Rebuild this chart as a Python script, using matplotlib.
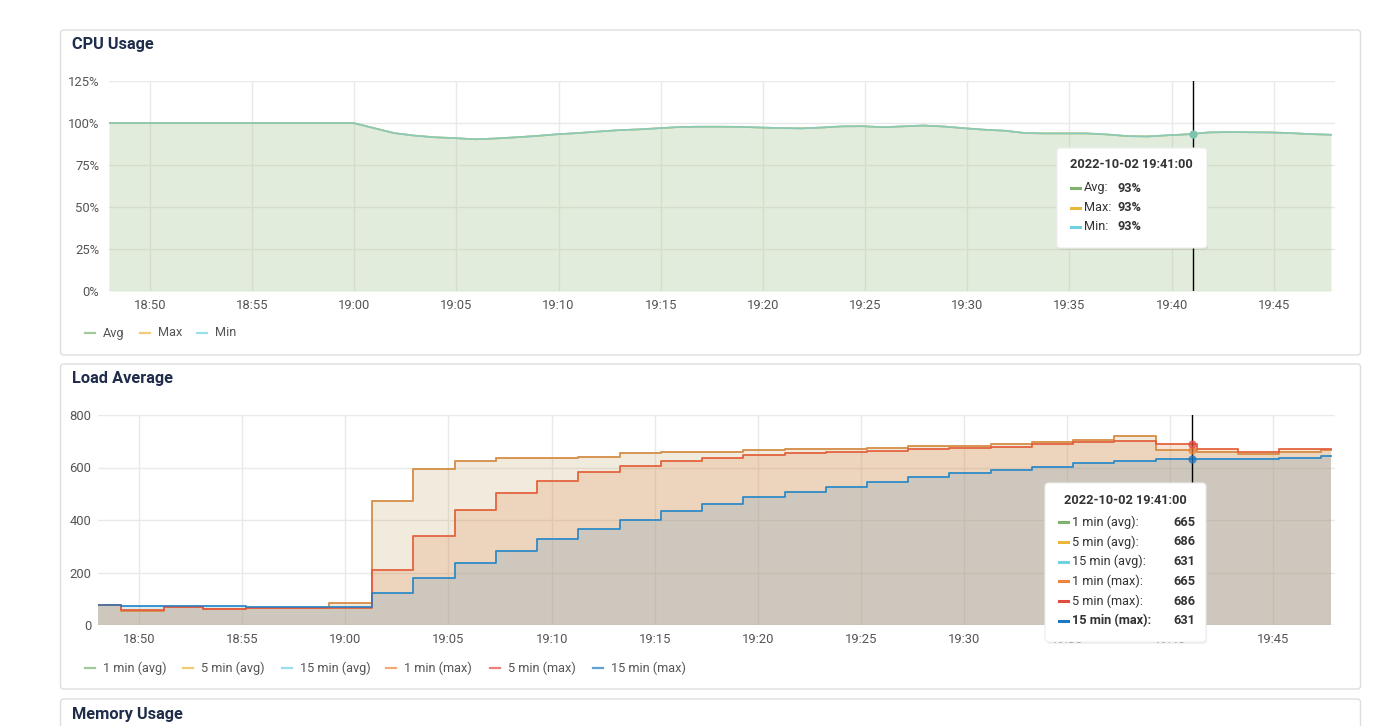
import matplotlib.pyplot as plt
from matplotlib.patches import FancyBboxPatch
from matplotlib.lines import Line2D
from matplotlib.transforms import Affine2D
import numpy as np

plt.rcParams['font.family'] = ['Roboto', 'DejaVu Sans']

W, H = 1398, 726

# x axis is minutes after 18:48
tick_pos = [2, 7, 12, 17, 22, 27, 32, 37, 42, 47, 52, 57]
tick_labels = ['18:50', '18:55', '19:00', '19:05', '19:10', '19:15',
               '19:20', '19:25', '19:30', '19:35', '19:40', '19:45']
cursor_t = 53.05
cursor_label = '2022-10-02 19:41:00'

# CPU usage (%), one sample per minute
cpu_avg = [100, 100, 100, 100, 100, 100, 100, 100, 100, 100, 100, 100, 100,
           97.0, 94.0, 92.5, 91.5, 91.0, 90.3, 90.8, 91.5, 92.3, 93.3, 94.0,
           94.9, 95.7, 96.2, 96.9, 97.6, 97.8, 97.8, 97.7, 97.3, 97.0, 96.8,
           97.3, 98.0, 98.1, 97.5, 98.0, 98.5, 97.9, 96.9, 96.0, 95.4, 94.0,
           93.8, 93.8, 93.8, 93.2, 92.2, 92.0, 92.7, 93.3, 94.4, 94.6, 94.5,
           94.4, 94.0, 93.4, 93.0]
cpu_max = list(cpu_avg)
cpu_min = list(cpu_avg)
cpu_names = ['Avg', 'Max', 'Min']
cpu_tip = ['93%', '93%', '93%']

# load average, step changes (minutes after 18:48)
load_t = [0, 1.1, 3.2, 5.1, 7.2, 11.2,
          13.3, 15.3, 17.3, 19.3, 21.3, 23.3, 25.3, 27.3, 29.3, 31.3, 33.3, 35.3,
          37.3, 39.3, 41.3, 43.3, 45.3, 47.3, 49.3, 51.3, 53.3, 55.3, 57.3, 59.3, 59.8]
load1_max = [77, 55, 67, 60, 63, 85,
             472, 594, 625, 635, 637, 639, 654, 660, 660, 665, 669, 669,
             675, 682, 682, 690, 698, 705, 720, 667, 660, 650, 660, 665, 665]
load5_max = [77, 57, 67, 60, 63, 66,
             210, 340, 438, 502, 549, 584, 606, 625, 635, 648, 654, 658,
             664, 670, 673, 679, 690, 698, 702, 688, 669, 658, 670, 670, 670]
load15_max = [77, 74, 72, 71, 70, 70,
              121, 178, 235, 282, 326, 366, 400, 435, 461, 486, 508, 527,
              546, 562, 578, 590, 603, 616, 625, 631, 632, 634, 637, 642, 642]
load1_avg = list(load1_max)
load5_avg = list(load5_max)
load15_avg = list(load15_max)
load_names = ['1 min (avg)', '5 min (avg)', '15 min (avg)',
              '1 min (max)', '5 min (max)', '15 min (max)']
load_tip = ['665', '686', '631', '665', '686', '631']

colors = ['#7EB26D', '#EAB839', '#6ED0E0', '#EF843C', '#E24D42', '#1F78C1']

fig = plt.figure(figsize=(W / 100, H / 100), dpi=100)
fig.patch.set_facecolor('white')
px = Affine2D().scale(1 / W, -1 / H).translate(0, 1) + fig.transFigure


def panel(top, bottom, title):
    box = FancyBboxPatch((60.5, top), 1300, bottom - top,
                         boxstyle='round,pad=0,rounding_size=3', transform=px,
                         fc='white', ec='#dedede', lw=1, zorder=-1)
    fig.add_artist(box)
    fig.text(72, top + 15, title, transform=px, fontsize=11.8, fontweight='bold',
             color='#1f2d4b', va='center', ha='left')


def style_axes(ax, ylim, yticks, ylabels, pad_y):
    ax.set_xlim(0, 60)
    ax.set_ylim(*ylim)
    ax.set_xticks(tick_pos, tick_labels)
    ax.set_yticks(yticks, ylabels)
    ax.tick_params(length=0, labelsize=9.4, colors='#555555')
    ax.tick_params(axis='y', pad=pad_y)
    ax.tick_params(axis='x', pad=6)
    ax.grid(color='#e9e9e9', lw=1)
    ax.set_axisbelow(True)
    for s in ax.spines.values():
        s.set_visible(False)


def legend(y, items):
    for (x, name), c in zip(items, colors):
        fig.add_artist(Line2D([x, x + 10], [y, y], transform=px, color=c,
                              lw=1.6, alpha=0.7))
        fig.text(x + 18, y, name, transform=px, fontsize=9.2, color='#555555',
                 va='center', ha='left')


def tooltip(x0, y0, x1, y1, rows, vals, label_x, value_x, row_y, dy, bold_last):
    shadow = FancyBboxPatch((x0 + 1, y0 + 2), x1 - x0, y1 - y0,
                            boxstyle='round,pad=0,rounding_size=4', transform=px,
                            fc='#000000', ec='none', alpha=0.06, zorder=9)
    box = FancyBboxPatch((x0, y0), x1 - x0, y1 - y0,
                         boxstyle='round,pad=0,rounding_size=4', transform=px,
                         fc='white', ec='#eeeeee', lw=0.8, zorder=10)
    fig.add_artist(shadow)
    fig.add_artist(box)
    fig.text(x0 + 13 if x1 - x0 < 155 else x0 + 19, y0 + 17, cursor_label,
             transform=px, fontsize=9.2, fontweight='bold', color='#333333',
             va='center', ha='left', zorder=11)
    for i, (name, v) in enumerate(zip(rows, vals)):
        yy = row_y + i * dy
        fw = 'bold' if (bold_last and i == len(rows) - 1) else 'normal'
        fig.add_artist(Line2D([label_x - 13, label_x - 4], [yy, yy], transform=px,
                              color=colors[i], lw=2.2, zorder=11))
        fig.text(label_x, yy, name + ':', transform=px, fontsize=9.2, color='#333333',
                 fontweight=fw, va='center', ha='left', zorder=11)
        fig.text(value_x, yy, v, transform=px, fontsize=9.2, color='#333333',
                 fontweight='bold', va='center', ha='left', zorder=11)


panel(30, 355, 'CPU Usage')
panel(364, 689, 'Load Average')
panel(699, 760, 'Memory Usage')

# CPU chart
ax1 = fig.add_axes([109 / W, 1 - 291 / H, (1335 - 109) / W, 210 / H])
cpu_t = np.linspace(0, 59.8, len(cpu_avg))
for vals, c in zip([cpu_avg, cpu_max, cpu_min], colors[:3]):
    ax1.fill_between(cpu_t, 0, vals, color=c, alpha=0.1, lw=0)
for vals, c in zip([cpu_avg, cpu_max, cpu_min], colors[:3]):
    ax1.plot(cpu_t, vals, color=c, lw=1.2, alpha=0.75)
style_axes(ax1, (0, 125), [0, 25, 50, 75, 100, 125],
           ['0%', '25%', '50%', '75%', '100%', '125%'], 7)
ax1.axvline(cursor_t, color='black', lw=1, zorder=5)
ax1.plot(cursor_t, np.interp(cursor_t, cpu_t, cpu_avg), 'o', ms=5,
         color='#7fc4b0', zorder=6)

# Load chart
ax2 = fig.add_axes([98 / W, 1 - 625 / H, (1335 - 98) / W, 210 / H])
load_series = [load1_avg, load5_avg, load15_avg, load1_max, load5_max, load15_max]
for vals, c in zip(load_series, colors):
    ax2.fill_between(load_t, 0, vals, step='post', color=c, alpha=0.1, lw=0)
for vals, c in zip(load_series, colors):
    ax2.plot(load_t, vals, drawstyle='steps-post', color=c, lw=1.2, alpha=0.85)
style_axes(ax2, (0, 800), [0, 200, 400, 600, 800],
           ['0', '200', '400', '600', '800'], 5)
ax2.axvline(cursor_t, color='black', lw=1, zorder=5)
idx = np.searchsorted(load_t, cursor_t) - 1
for vals, c in zip(load_series[3:], colors[3:]):
    ax2.plot(cursor_t, vals[idx], 'o', ms=5, color=c, alpha=0.7, zorder=6)

legend(333, [(85, 'Avg'), (140, 'Max'), (197, 'Min')])
legend(668, [(85, load_names[0]), (183, load_names[1]), (282, load_names[2]),
             (386, load_names[3]), (490, load_names[4]), (593, load_names[5])])

tooltip(1057, 148, 1207, 248, cpu_names, cpu_tip, 1084, 1117, 188, 19.5, False)
tooltip(1045, 483, 1206, 642, load_names, load_tip, 1072, 1173, 522, 19.8, True)

fig.savefig('out.png', dpi=100)
